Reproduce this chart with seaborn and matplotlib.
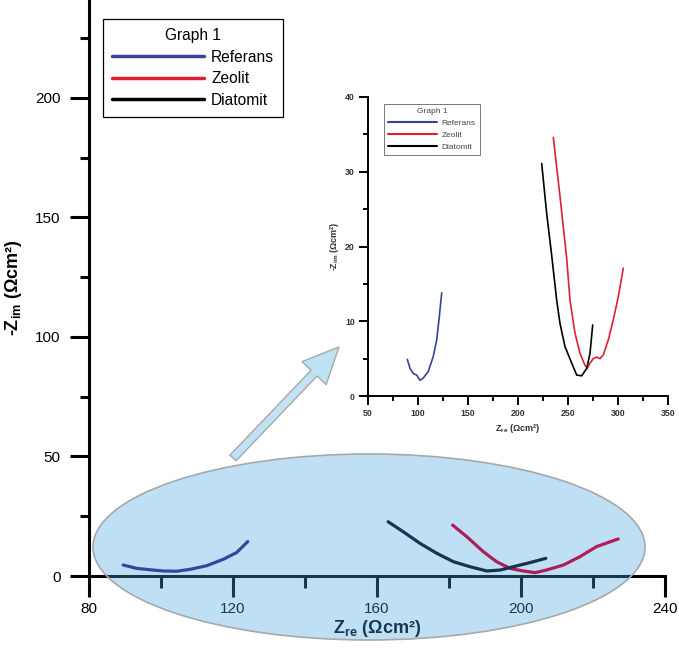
import numpy as np
import pandas as pd
import matplotlib
matplotlib.use("Agg")
import matplotlib.pyplot as plt
import seaborn as sns
from matplotlib.patches import Ellipse, FancyArrowPatch
from matplotlib.ticker import MultipleLocator

# -------------------------------------------------
# DATOS - grafico principal
# -------------------------------------------------
ref_x = [89.5, 93.2, 97.0, 100.6, 104.4, 108.1, 112.7, 117.3, 121.0, 124.1]
ref_y = [4.6, 3.2, 2.6, 2.1, 2.0, 2.8, 4.3, 7.0, 9.8, 14.4]

zeo_x = [181.0, 184.9, 189.5, 193.2, 196.9, 200.6, 203.9, 207.1, 211.8, 216.4, 221.0, 227.0]
zeo_y = [21.3, 16.5, 10.2, 6.0, 3.2, 2.1, 1.4, 2.5, 4.6, 8.1, 12.3, 15.5]

dia_x = [163.1, 167.3, 171.9, 176.6, 181.2, 185.8, 190.5, 194.2, 197.9, 202.5, 206.9]
dia_y = [22.7, 18.5, 13.7, 9.5, 6.0, 3.9, 2.1, 2.5, 3.9, 5.6, 7.4]

# -------------------------------------------------
# DATOS - grafico insertado
# -------------------------------------------------
ins_ref_x = [89.3, 92.0, 95.3, 98.7, 102.0, 105.3, 110.3, 115.3, 118.7, 121.3, 123.7]
ins_ref_y = [4.9, 3.7, 3.0, 2.8, 2.1, 2.4, 3.3, 5.3, 7.5, 10.6, 13.8]

ins_zeo_x = [235.3, 242.0, 248.7, 252.0, 257.0, 262.0, 267.0, 269.3, 272.0, 275.3,
             278.7, 282.0, 285.3, 290.3, 295.3, 300.3, 305.3]
ins_zeo_y = [34.6, 26.7, 18.4, 12.8, 8.4, 5.7, 4.1, 3.7, 4.4, 5.0,
             5.2, 5.0, 5.5, 7.5, 10.2, 13.3, 17.1]

ins_dia_x = [223.7, 228.7, 233.7, 238.7, 242.0, 247.0, 253.7, 258.7, 263.7, 268.7, 272.0, 274.7]
ins_dia_y = [31.1, 24.4, 18.8, 12.8, 9.7, 6.6, 4.4, 2.8, 2.7, 3.7, 5.7, 9.5]

series = ["Referans", "Zeolit", "Diatomit"]
colores = {"Referans": "#34449c", "Zeolit": "#e0202e", "Diatomit": "#000000"}
# como se ven las curvas dentro de la elipse
colores_elipse = {"Referans": "#35469e", "Zeolit": "#ad1f58", "Diatomit": "#1a3250"}

sns.set_style("ticks")
plt.rcParams["font.family"] = ["Liberation Sans", "DejaVu Sans"]
plt.rcParams["text.color"] = "black"
plt.rcParams["axes.labelcolor"] = "black"
plt.rcParams["xtick.color"] = "black"
plt.rcParams["ytick.color"] = "black"
plt.rcParams["axes.edgecolor"] = "black"

fig = plt.figure(figsize=(6.79, 6.49), dpi=100)

# -------------------------------------------------
# GRAFICO PRINCIPAL
# -------------------------------------------------
ax = fig.add_axes([89 / 679, 73 / 649, 576 / 679, 576 / 649])
datos_main = [(ref_x, ref_y), (zeo_x, zeo_y), (dia_x, dia_y)]
for nombre, (xs, ys) in zip(series, datos_main):
    sns.lineplot(x=xs, y=ys, ax=ax, color=colores_elipse[nombre], lw=2.3,
                 sort=False, estimator=None, label=nombre, zorder=4)

ax.set_xlim(80, 240)
ax.set_ylim(0, 241)
sns.despine(ax=ax)
for s in ["left", "bottom"]:
    ax.spines[s].set_linewidth(2.2)
ax.xaxis.set_major_locator(MultipleLocator(40))
ax.xaxis.set_minor_locator(MultipleLocator(20))
ax.yaxis.set_major_locator(MultipleLocator(50))
ax.yaxis.set_minor_locator(MultipleLocator(25))
ax.tick_params(axis="x", which="major", length=15, width=2.2, pad=4, labelsize=11)
ax.tick_params(axis="x", which="minor", length=8.5, width=2.2)
ax.tick_params(axis="y", which="major", length=13.5, width=2.2, pad=7, labelsize=11)
ax.tick_params(axis="y", which="minor", length=6.5, width=2.2)
ax.set_facecolor("none")

ax.set_xlabel("Z$_{\\mathregular{re}}$ (\u03a9cm\u00b2)", fontsize=13, fontweight="bold")
ax.set_ylabel("-Z$_{\\mathregular{im}}$ (\u03a9cm\u00b2)", fontsize=13, fontweight="bold")
ax.xaxis.set_label_coords(0.5, -0.073)
ax.yaxis.set_label_coords(-0.113, 0.5)

leg = ax.legend(title="Graph 1", loc="upper left", bbox_to_anchor=(103 / 679, 1 - 19 / 649),
                bbox_transform=fig.transFigure, fontsize=11.2, title_fontsize=11.2,
                handlelength=5.9, handletextpad=0.45, labelspacing=0.42,
                borderpad=0.6, borderaxespad=0, fancybox=False, framealpha=1,
                edgecolor="black")
leg.get_frame().set_linewidth(0.9)
for h, nombre in zip(leg.legend_handles, series):
    h.set_linewidth(2.5)
    h.set_color(colores[nombre])

# elipse sobre el eje principal (tapa ejes y etiquetas, no las curvas)
elipse = Ellipse((369 / 679, 1 - 547 / 649), 552 / 679, 186 / 649,
                 transform=fig.transFigure, clip_on=False,
                 facecolor=(70 / 255, 165 / 255, 228 / 255, 0.345),
                 edgecolor="#a8a8a8", linewidth=1.2, zorder=3)
ax.add_artist(elipse)

# -------------------------------------------------
# GRAFICO INSERTADO
# -------------------------------------------------
axi = fig.add_axes([368 / 679, (649 - 396) / 649, 300 / 679, 299 / 649])
datos_ins = [(ins_ref_x, ins_ref_y), (ins_zeo_x, ins_zeo_y), (ins_dia_x, ins_dia_y)]
for nombre, (xs, ys) in zip(series, datos_ins):
    sns.lineplot(x=xs, y=ys, ax=axi, color=colores[nombre], lw=1.2,
                 sort=False, estimator=None, label=nombre)

axi.set_xlim(50, 350)
axi.set_ylim(0, 40)
sns.despine(ax=axi)
for s in ["left", "bottom"]:
    axi.spines[s].set_linewidth(1.4)
axi.xaxis.set_major_locator(MultipleLocator(50))
axi.xaxis.set_minor_locator(MultipleLocator(25))
axi.yaxis.set_major_locator(MultipleLocator(10))
axi.yaxis.set_minor_locator(MultipleLocator(5))
axi.tick_params(which="major", length=6.5, width=1.4, pad=3, labelsize=6.3,
                labelcolor="#333333")
axi.tick_params(which="minor", length=3.6, width=1.4)
for t in axi.get_xticklabels() + axi.get_yticklabels():
    t.set_fontweight("bold")
axi.set_facecolor("none")
axi.set_xlabel("Z$_{\\mathregular{re}}$ (\u03a9cm\u00b2)", fontsize=6.5, fontweight="bold",
               color="#333333", labelpad=3)
axi.set_ylabel("-Z$_{\\mathregular{im}}$ (\u03a9cm\u00b2)", fontsize=6.5, fontweight="bold",
               color="#333333", labelpad=3)

legi = axi.legend(title="Graph 1", loc="upper left", bbox_to_anchor=(384 / 679, 1 - 104 / 649),
                  bbox_transform=fig.transFigure, fontsize=6, title_fontsize=6,
                  handlelength=5.9, handletextpad=0.5, labelspacing=0.5,
                  borderpad=0.5, borderaxespad=0, fancybox=False, framealpha=1,
                  edgecolor="#777777")
legi.get_frame().set_linewidth(0.7)
for t in legi.get_texts():
    t.set_color("#444444")
legi.get_title().set_color("#444444")
for h in legi.legend_handles:
    h.set_linewidth(1.5)

# -------------------------------------------------
# FLECHA
# -------------------------------------------------
flecha = FancyArrowPatch((233 / 679, 1 - 458 / 649), (339 / 679, 1 - 347 / 649),
                         transform=fig.transFigure,
                         arrowstyle="simple,head_length=26,head_width=24,tail_width=6",
                         mutation_scale=1, shrinkA=0, shrinkB=0,
                         facecolor="#bfe3f5", edgecolor="#a8a8a8", linewidth=1, zorder=5)
fig.add_artist(flecha)

fig.savefig("out.png", dpi=100)
plt.close(fig)
